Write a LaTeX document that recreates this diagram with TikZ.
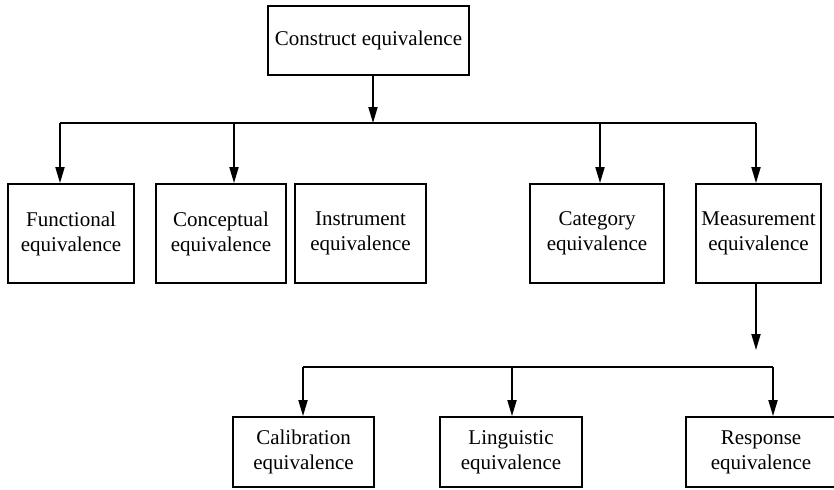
\documentclass[tikz,border=0pt]{standalone}
\usepackage{fontspec}
\setmainfont{Liberation Serif}
\usetikzlibrary{arrows.meta}
\begin{document}
\begin{tikzpicture}
[x=0.5pt,y=-0.5pt
,bx/.style={draw,line width=0.9pt,align=center,inner sep=0pt,font=\fontsize{10.5}{12.5}\selectfont}
,topbox/.style={bx,minimum height=34.5pt}
,midbox/.style={bx,minimum height=49.5pt}
,lowbox/.style={bx,minimum height=35pt}
,ln/.style={draw=black,line width=0.9pt}
,be/.style={ln,arrows={-Triangle[length=8pt,width=4.5pt]}}
]
\useasboundingbox (0,0) rectangle (834,489);
\node[topbox,minimum width=100.5pt] (cons) at (368.5,40.5) {Construct equivalence};
\node[midbox,minimum width=63pt] (func) at (71,233.5) {Functional\\equivalence};
\node[midbox,minimum width=65pt] (conc) at (221,233.5) {Conceptual\\equivalence};
\node[midbox,minimum width=65.5pt] (inst) at (360.5,233.5) {Instrument\\equivalence};
\node[midbox,minimum width=67pt] (cat) at (597,233.5) {Category\\equivalence};
\node[midbox,minimum width=62.5pt] (meas) at (758.5,233.5) {Measurement\\equivalence};
\node[lowbox,minimum width=70.5pt] (cal) at (303.5,452) {Calibration\\equivalence};
\node[lowbox,minimum width=71pt] (ling) at (511,452) {Linguistic\\equivalence};
\node[lowbox,minimum width=75pt] (resp) at (761,452) {Response\\equivalence};
% upper bus
\coordinate (b1) at (373,123);
\coordinate (bl) at (60,123);
\coordinate (bc) at (234,123);
\coordinate (bk) at (600,123);
\coordinate (br) at (756,123);
% lower bus
\coordinate (m1) at (756,350);
\coordinate (cl) at (303,367);
\coordinate (cc) at (512,367);
\coordinate (cr) at (773,367);
\draw[be] (cons.south -| b1) -- (b1);
\draw[ln] (bl) -- (br);
\draw[be] (bl) -- (func.north -| bl);
\draw[be] (bc) -- (conc.north -| bc);
\draw[be] (bk) -- (cat.north -| bk);
\draw[be] (br) -- (meas.north -| br);
\draw[be] (meas.south -| m1) -- (m1);
\draw[ln] (cl) -- (cr);
\draw[be] (cl) -- (cal.north -| cl);
\draw[be] (cc) -- (ling.north -| cc);
\draw[be] (cr) -- (resp.north -| cr);
\end{tikzpicture}
\end{document}
